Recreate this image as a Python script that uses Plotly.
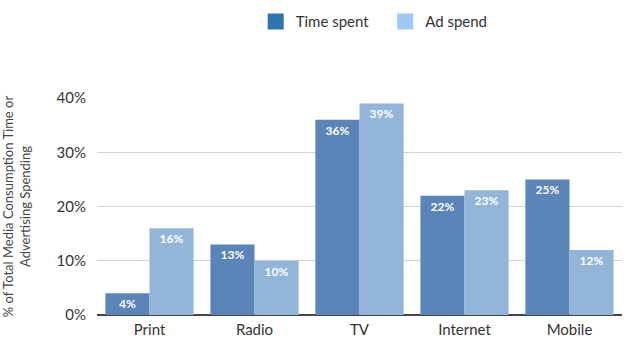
import plotly.graph_objects as go

categories = ["Print", "Radio", "TV", "Internet", "Mobile"]
time_spent = [4, 13, 36, 22, 25]
ad_spend = [16, 10, 39, 23, 12]
tick_vals = [0, 10, 20, 30, 40]
tick_text = ["0%", "10%", "20%", "30%", "40%"]

FONT = "Lato, 'Open Sans', sans-serif"

fig = go.Figure()
fig.add_trace(go.Bar(
    x=categories, y=time_spent, name="Time spent", showlegend=False,
    marker=dict(color="#5b84b8", line=dict(width=0)),
    text=[f"<b>{v}%</b>" for v in time_spent], textposition="inside",
    insidetextanchor="end", textangle=0, constraintext="none",
    textfont=dict(color="white", size=12, family=FONT),
))
fig.add_trace(go.Bar(
    x=categories, y=ad_spend, name="Ad spend", showlegend=False,
    marker=dict(color="#93b5da", line=dict(width=0)),
    text=[f"<b>{v}%</b>" for v in ad_spend], textposition="inside",
    insidetextanchor="end", textangle=0, constraintext="none",
    textfont=dict(color="white", size=12, family=FONT),
))
# legend entries
fig.add_trace(go.Scatter(x=[None], y=[None], name="Time spent   ", mode="markers",
                         marker=dict(color="#2f72ad", symbol="square", size=18)))
fig.add_trace(go.Scatter(x=[None], y=[None], name="Ad spend", mode="markers",
                         marker=dict(color="#9fc8f5", symbol="square", size=18)))

fig.update_layout(
    width=640, height=342,
    margin=dict(l=97, r=18, t=98, b=27),
    paper_bgcolor="white", plot_bgcolor="white",
    barmode="group", bargap=0.16, bargroupgap=0,
    font=dict(family=FONT, color="#333333"),
    legend=dict(orientation="h", x=0.528, xanchor="center", y=0.985,
                yref="container", yanchor="top",
                font=dict(size=15, color="#333333"),
                itemwidth=30, traceorder="normal"),
    xaxis=dict(showgrid=False, tickfont=dict(size=15, color="#333333"),
               showline=False, ticks="", ticklabelstandoff=4,
               automargin=False),
    yaxis=dict(range=[0, 40], tickvals=tick_vals, ticktext=tick_text,
               tickfont=dict(size=15, color="#333333"),
               gridcolor="#d4d4d4", gridwidth=1, zeroline=True,
               zerolinecolor="#444444", zerolinewidth=1.5, ticks="",
               ticklabelstandoff=10, automargin=False,
               title=dict(text="% of Total Media Consumption Time or<br>Advertising Spending",
                          font=dict(size=13, color="#444444"), standoff=32)),
)

fig.write_html("out.html")
